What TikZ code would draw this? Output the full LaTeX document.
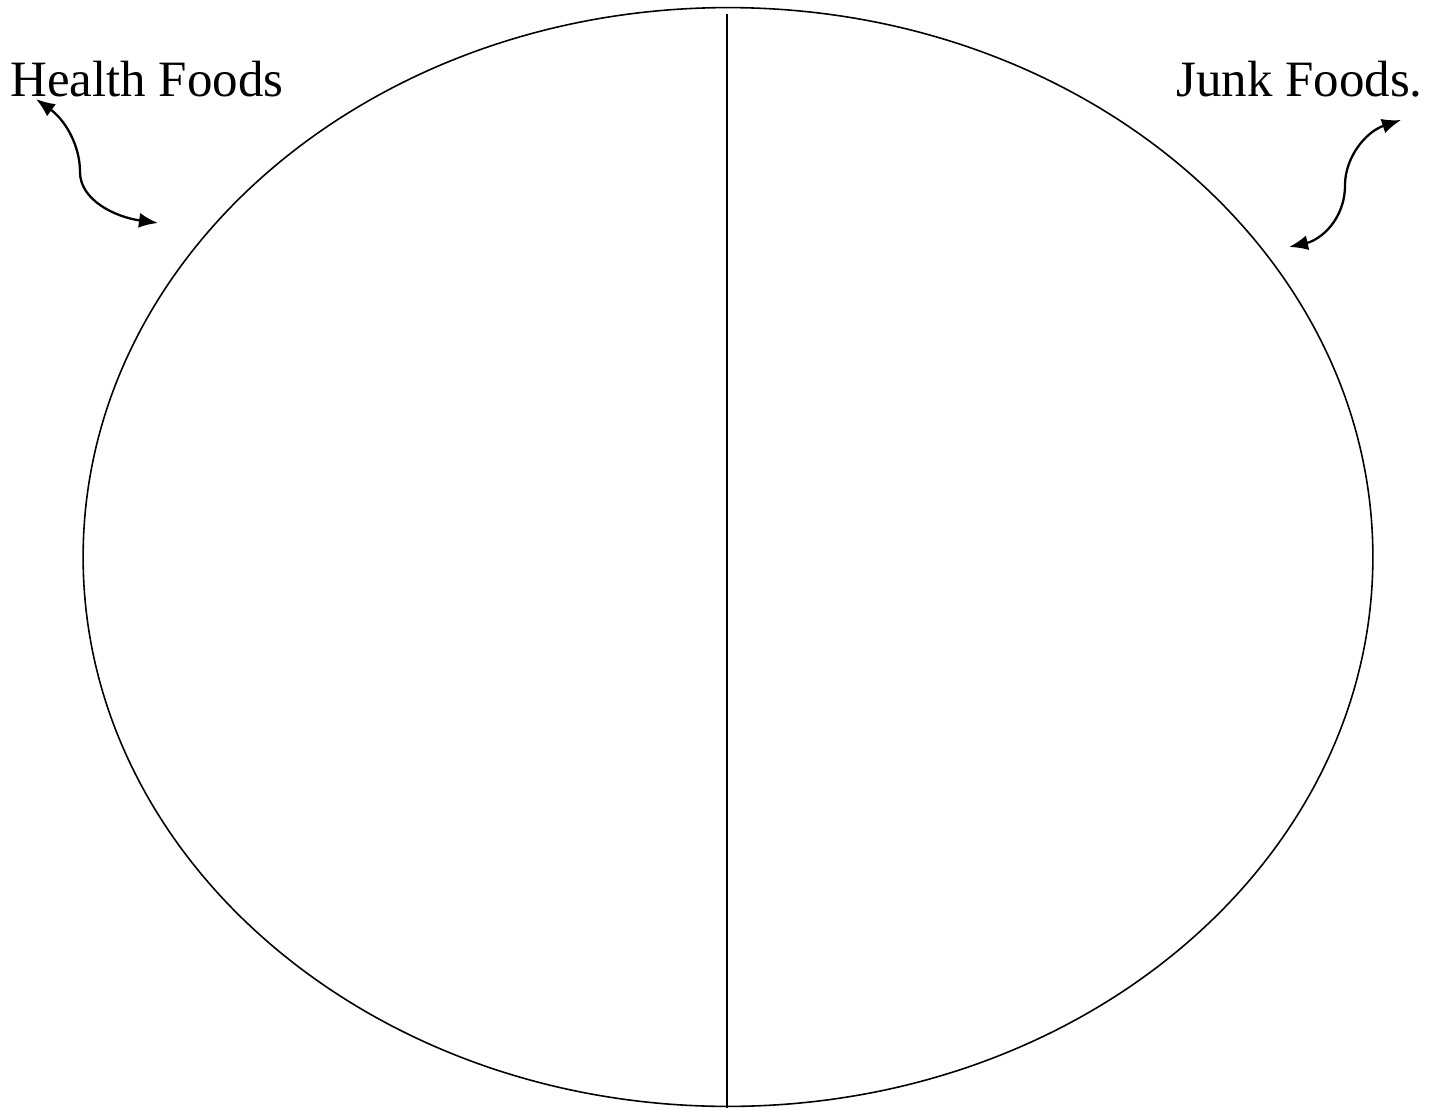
\documentclass[tikz,border=0pt]{standalone}
\usepackage{fontspec}
\setmainfont{Liberation Serif}
\usetikzlibrary{arrows.meta,shapes.geometric}

\begin{document}
\begin{tikzpicture}[
  x=0.02cm,y=-0.02cm,
  label/.style={inner sep=0pt,font=\fontsize{29}{33}\selectfont},
  plate/.style={draw,ellipse,line width=0.9pt,minimum width=25.8cm,minimum height=21.98cm,inner sep=0pt},
  arrow/.style={{Latex[length=3.8mm,width=3mm]}-{Latex[length=3.8mm,width=3mm]},line width=1.3pt}
]
\useasboundingbox (0,0) rectangle (1443,1108);
\node[plate] (plate) at (728,557) {};
\coordinate (divtop) at (727,14);
\coordinate (divbot) at (727,1108);
\draw[line width=0.9pt] (divtop)--(divbot);
\node[label,anchor=base west] (health) at (10,97) {Health Foods};
\node[label,anchor=base east] (junk) at (1423,97) {Junk Foods.};
\coordinate (hend) at (36,99);
\coordinate (hmid) at (80,172);
\coordinate (hplate) at (158,223);
\coordinate (jend) at (1401,120);
\coordinate (jmid) at (1345,185);
\coordinate (jplate) at (1289,247);
\draw[arrow] (hend) .. controls (65,120) and (80,145) .. (hmid) .. controls (80,200) and (115,217) .. (hplate);
\draw[arrow] (jend) .. controls (1365,132) and (1345,158) .. (jmid) .. controls (1345,220) and (1320,240) .. (jplate);
\end{tikzpicture}
\end{document}
